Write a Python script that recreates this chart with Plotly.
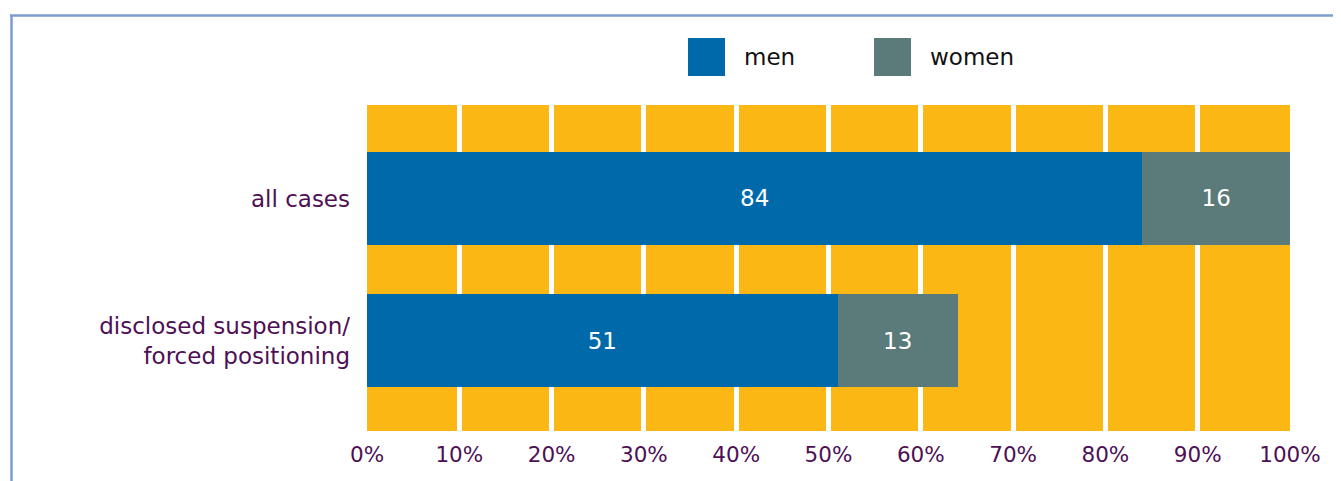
import plotly.graph_objects as go

# ---- data ----
categories = ["all cases", "disclosed suspension/<br>forced positioning"]
series_names = ["men", "women"]
men = [84, 51]
women = [16, 13]
x_tick_vals = [0, 10, 20, 30, 40, 50, 60, 70, 80, 90, 100]
x_tick_labels = ["0%", "10%", "20%", "30%", "40%", "50%", "60%", "70%", "80%", "90%", "100%"]

# ---- styles ----
colors = ["#0069AA", "#5A7B7A"]
yellow = "#FBB815"
purple = "#4E0F55"
FONT = "DejaVu Sans"
OFF = 8  # page body margin
W, H = 1341, 481
# plot area in screen pixels: x 367..1290, y 105..431
L = 367 - OFF
T = 105 - OFF
R = W - (1290 - OFF)
B = H - (431 - OFF)
PW, PH = W - L - R, H - T - B


def px2x(px):
    return (px - OFF - L) / PW


def py2y(py):
    return (H - B - (py - OFF)) / PH


fig = go.Figure()
for name, vals, col in zip(series_names, [men, women], colors):
    fig.add_trace(go.Bar(
        y=categories, x=vals, name=name, orientation="h",
        marker=dict(color=col, line=dict(width=0)),
        text=vals, texttemplate="%{x}", textposition="inside",
        insidetextanchor="middle",
        textfont=dict(family=FONT, size=23, color="white"),
        showlegend=False,
    ))

shapes = []
annotations = []
# legend swatches + labels
leg_x = [688, 874]
for i, (name, col) in enumerate(zip(series_names, colors)):
    x0 = leg_x[i]
    shapes.append(dict(type="rect", xref="paper", yref="paper",
                       x0=px2x(x0), x1=px2x(x0 + 37), y0=py2y(76), y1=py2y(38),
                       fillcolor=col, line=dict(width=0)))
    annotations.append(dict(xref="paper", yref="paper", x=px2x(x0 + 54), y=py2y(57),
                            text=name, showarrow=False, xanchor="left", yanchor="middle",
                            font=dict(family=FONT, size=23, color="#111111")))
# frame border
shapes.append(dict(type="line", xref="paper", yref="paper",
                   x0=px2x(11.5), x1=px2x(11.5), y0=py2y(15), y1=py2y(520),
                   line=dict(color="#7C9DCE", width=2.5)))
shapes.append(dict(type="line", xref="paper", yref="paper",
                   x0=px2x(10), x1=px2x(1380), y0=py2y(15.5), y1=py2y(15.5),
                   line=dict(color="#7C9DCE", width=2.5)))

fig.update_layout(
    width=W, height=H,
    margin=dict(l=L, r=R, t=T, b=B, pad=0),
    barmode="stack", bargap=0.345,
    plot_bgcolor=yellow, paper_bgcolor="white",
    font=dict(family=FONT, size=23, color=purple),
    shapes=shapes, annotations=annotations,
    xaxis=dict(range=[0, 100], tickvals=x_tick_vals, ticktext=x_tick_labels,
               showgrid=True, gridcolor="white", gridwidth=5, zeroline=False,
               showline=False, ticks="", ticklabelstandoff=8,
               tickfont=dict(family=FONT, size=21.5, color=purple)),
    yaxis=dict(type="category", range=[1.637, -0.658], showgrid=False,
               zeroline=False, showline=False, ticks="", ticklabelstandoff=16,
               tickfont=dict(family=FONT, size=23, color=purple)),
)

fig.write_html("out.html")
